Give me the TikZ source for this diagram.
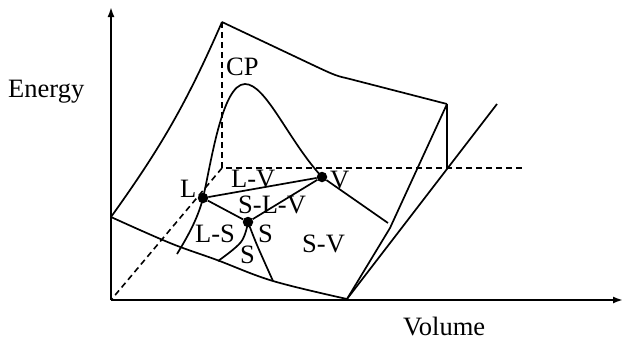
\documentclass[tikz,border=0pt]{standalone}
\usepackage{fontspec}
\setmainfont{Liberation Serif}
\usetikzlibrary{arrows.meta}
\begin{document}
\begin{tikzpicture}[x=1pt,y=-1pt,
  edge/.style={line width=1.7pt, line join=round},
  axis/.style={line width=1.8pt, -{Latex[length=10pt,width=7pt]}},
  dashline/.style={line width=1.6pt, dash pattern=on 6pt off 4pt},
  lab/.style={anchor=base west, inner sep=0pt, font=\fontsize{26.5}{30}\selectfont},
  dot/.style={circle, fill=black, inner sep=0pt, minimum size=10.5pt}]
\useasboundingbox (0,0) rectangle (624,341);
% axes
\coordinate (O) at (111,300);
\coordinate (Ytip) at (111,7);
\coordinate (Xtip) at (623,300);
\draw[axis] (O) -- (Ytip);
\draw[axis] (O) -- (Xtip);
% key points
\coordinate (P) at (222,22);
\coordinate (Pb) at (222,168);
\coordinate (Dend) at (525,168);
\coordinate (LE) at (111,217);
\coordinate (B) at (347,299);
\coordinate (R) at (447,104);
\coordinate (Rb) at (447,168);
\coordinate (R2) at (497,104);
\coordinate (K) at (390,228);
\coordinate (Vend) at (388,223);
\coordinate (Lend) at (177,254);
\coordinate (Top) at (245,84);
\node[dot] (L) at (203,198) {};
\node[dot] (S) at (248,222) {};
\node[dot] (V) at (322,177) {};
% dashed 3D axes
\draw[dashline] (P) -- (Pb) -- (Dend);
\draw[dashline] (Pb) -- (O);
% surface outline
\draw[edge] (LE) to[bend right=6] (P);
\draw[edge] (P) -- (315,66) .. controls (330,73) and (336,76) .. (346,78) -- (R);
\draw[edge] (R) -- (Rb);
\draw[edge] (R) -- (K) -- (B);
\draw[edge] (R2) -- (B);
\draw[edge] plot[smooth, tension=0.6] coordinates {(LE) (170,243) (217,260) (273,281) (B)};
% coexistence lines
\draw[edge] (Lend) .. controls (188,236) and (198,218) .. (L.center)
  .. controls (211,164) and (222,84) .. (Top)
  .. controls (266,84) and (288,140) .. (V.center);
\draw[edge] (L) -- (V);
\draw[edge] (L) -- (S) -- (V);
\draw[edge] (V) -- (Vend);
\draw[edge] plot[smooth, tension=0.6] coordinates {(S) (241,242) (218,261)};
\draw[edge] plot[smooth, tension=0.6] coordinates {(S) (257,245) (273,281)};
% labels
\node[lab] (tE) at (8,97) {Energy};
\node[lab] (tVol) at (403,335) {Volume};
\node[lab] (tCP) at (226,75) {CP};
\node[lab] (tLV) at (231,187) {L-V};
\node[lab] (tL) at (180,197) {L};
\node[lab] (tV) at (330,188) {V};
\node[lab] (tSLV) at (238,213) {S-L-V};
\node[lab] (tS1) at (258,242) {S};
\node[lab] (tLS) at (195,242) {L-S};
\node[lab] (tS2) at (240,263) {S};
\node[lab] (tSV) at (302,252) {S-V};
\end{tikzpicture}
\end{document}
